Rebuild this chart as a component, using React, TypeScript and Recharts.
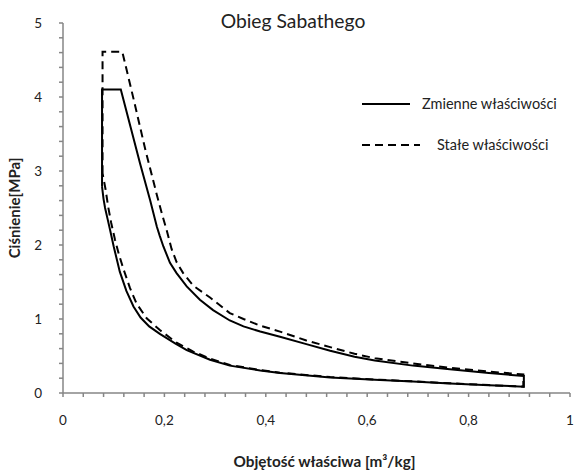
import React from 'react';
import { LineChart, Line, XAxis, YAxis, Label } from 'recharts';

// Zmienne właściwości (variable properties) cycle, v [m3/kg], p [MPa]
const solidV = [0.077, 0.077, 0.114, 0.133, 0.152, 0.172, 0.185, 0.191, 0.198, 0.211, 0.224, 0.244, 0.27, 0.296, 0.329, 0.356, 0.389, 0.428, 0.48, 0.527, 0.575, 0.615, 0.69, 0.763, 0.84, 0.909, 0.909, 0.84, 0.763, 0.69, 0.625, 0.527, 0.428, 0.389, 0.329, 0.29, 0.244, 0.221, 0.191, 0.17, 0.153, 0.139, 0.125, 0.112, 0.1, 0.093, 0.088, 0.083, 0.08, 0.077];
const solidP = [2.79, 4.1, 4.1, 3.6, 3.1, 2.6, 2.25, 2.12, 1.98, 1.76, 1.62, 1.44, 1.26, 1.12, 0.98, 0.9, 0.83, 0.76, 0.66, 0.57, 0.49, 0.44, 0.37, 0.32, 0.27, 0.23, 0.085, 0.105, 0.13, 0.155, 0.175, 0.21, 0.27, 0.305, 0.37, 0.45, 0.58, 0.67, 0.8, 0.9, 1.02, 1.17, 1.38, 1.64, 1.98, 2.2, 2.35, 2.5, 2.62, 2.79];

// Stałe właściwości (constant properties) cycle
const dashedV = [0.078, 0.078, 0.117, 0.14, 0.162, 0.185, 0.196, 0.2045, 0.214, 0.224, 0.237, 0.257, 0.29, 0.329, 0.356, 0.389, 0.428, 0.48, 0.527, 0.575, 0.615, 0.69, 0.763, 0.84, 0.908, 0.908, 0.84, 0.763, 0.69, 0.625, 0.527, 0.428, 0.389, 0.329, 0.29, 0.257, 0.224, 0.191, 0.165, 0.145, 0.132, 0.119, 0.11, 0.1026, 0.095, 0.089, 0.084, 0.078];
const dashedP = [2.97, 4.61, 4.61, 3.95, 3.3, 2.68, 2.4, 2.2, 1.95, 1.77, 1.62, 1.45, 1.29, 1.08, 1.0, 0.91, 0.83, 0.71, 0.62, 0.53, 0.47, 0.4, 0.34, 0.29, 0.25, 0.085, 0.107, 0.132, 0.158, 0.178, 0.215, 0.275, 0.31, 0.38, 0.465, 0.56, 0.68, 0.85, 1.01, 1.21, 1.42, 1.68, 1.88, 2.07, 2.3, 2.52, 2.75, 2.97];

const seriesNames = ['Zmienne właściwości', 'Stałe właściwości'];

const xMajorTicks = [0, 0.2, 0.4, 0.6, 0.8, 1];
const xMinorTicks = [0.04, 0.08, 0.12, 0.16, 0.24, 0.28, 0.32, 0.36, 0.44, 0.48, 0.52, 0.56, 0.64, 0.68, 0.72, 0.76, 0.84, 0.88, 0.92, 0.96];
const yMajorTicks = [0, 1, 2, 3, 4, 5];
const yMinorTicks = [0.2, 0.4, 0.6, 0.8, 1.2, 1.4, 1.6, 1.8, 2.2, 2.4, 2.6, 2.8, 3.2, 3.4, 3.6, 3.8, 4.2, 4.4, 4.6, 4.8];

const title = 'Obieg Sabathego';
const xTitle = 'Objętość właściwa [m³/kg]';
const yTitle = 'Ciśnienie[MPa]';

const solidData = solidV.map((v, i) => ({ v, p: solidP[i] }));
const dashedData = dashedV.map((v, i) => ({ v, p: dashedP[i] }));

const FONT = 'Lato, "Open Sans", sans-serif';
const AXIS_COLOR = '#868686';

const isMajor = (val: number, majors: number[]) => majors.some((m) => Math.abs(m - val) < 1e-9);
const fmt = (val: number) => String(val).replace('.', ',');

const XTick = (props: any) => {
  const { x, y, payload } = props;
  if (!isMajor(payload.value, xMajorTicks)) return null;
  return (
    <text x={x} y={y} dy={26} textAnchor="middle" fontFamily={FONT} fontSize={13.5} fill="#222">
      {fmt(payload.value)}
    </text>
  );
};

const YTick = (props: any) => {
  const { x, y, payload } = props;
  if (!isMajor(payload.value, yMajorTicks)) return null;
  return (
    <text x={x} y={y} dx={-15} dy={4.7} textAnchor="end" fontFamily={FONT} fontSize={13.5} fill="#222">
      {fmt(payload.value)}
    </text>
  );
};

export default function App() {
  return (
    <div style={{ position: 'absolute', left: 0, top: 0, width: 575, height: 475, background: '#fff' }}>
      <LineChart width={575} height={475} margin={{ top: 23, right: 5, bottom: 52, left: 0 }}>
        <XAxis
          dataKey="v"
          type="number"
          domain={[0, 1]}
          ticks={[...xMajorTicks, ...xMinorTicks].sort((a, b) => a - b)}
          tick={<XTick />}
          tickSize={4}
          tickLine={{ stroke: AXIS_COLOR, strokeWidth: 1.5 }}
          axisLine={{ stroke: AXIS_COLOR, strokeWidth: 1.5 }}
          height={30}
          interval={0}
        >
          <Label
            content={(p: any) => {
              const vb = p.viewBox;
              return (
                <text x={vb.x + vb.width / 2 + 8} y={vb.y + 74} textAnchor="middle" fontFamily={FONT} fontWeight="bold" fontSize={15.3} fill="#222">
                  {xTitle}
                </text>
              );
            }}
          />
        </XAxis>
        <YAxis
          dataKey="p"
          type="number"
          domain={[0, 5]}
          ticks={[...yMajorTicks, ...yMinorTicks].sort((a, b) => a - b)}
          tick={<YTick />}
          tickSize={4}
          tickLine={{ stroke: AXIS_COLOR, strokeWidth: 1.5 }}
          axisLine={{ stroke: AXIS_COLOR, strokeWidth: 1.5 }}
          width={63}
          interval={0}
        >
          <Label
            content={(p: any) => {
              const vb = p.viewBox;
              const cy = vb.y + vb.height / 2;
              return (
                <text x={16} y={cy} transform={`rotate(-90, 16, ${cy})`} textAnchor="middle" dominantBaseline="middle" fontFamily={FONT} fontWeight="bold" fontSize={15} fill="#222">
                  {yTitle}
                </text>
              );
            }}
          />
        </YAxis>
        <Line data={solidData} dataKey="p" name={seriesNames[0]} stroke="#000" strokeWidth={2} dot={false} activeDot={false} isAnimationActive={false} />
        <Line data={dashedData} dataKey="p" name={seriesNames[1]} stroke="#000" strokeWidth={2} strokeDasharray="8 5" dot={false} activeDot={false} isAnimationActive={false} />
      </LineChart>
      <svg width={220} height={70} style={{ position: 'absolute', left: 355, top: 95 }}>
        <line x1={7} y1={9} x2={55} y2={9} stroke="#000" strokeWidth={2} />
        <text x={67} y={14} fontFamily={FONT} fontSize={14.5} fill="#222">{seriesNames[0]}</text>
        <line x1={7} y1={50} x2={65} y2={50} stroke="#000" strokeWidth={2} strokeDasharray="8 5" />
        <text x={82} y={55} fontFamily={FONT} fontSize={14.5} fill="#222">{seriesNames[1]}</text>
      </svg>
      <div style={{ position: 'absolute', left: 0, top: 8, width: 586, textAlign: 'center', fontFamily: FONT, fontSize: 19.3, color: '#222', lineHeight: '26px' }}>
        {title}
      </div>
    </div>
  );
}
